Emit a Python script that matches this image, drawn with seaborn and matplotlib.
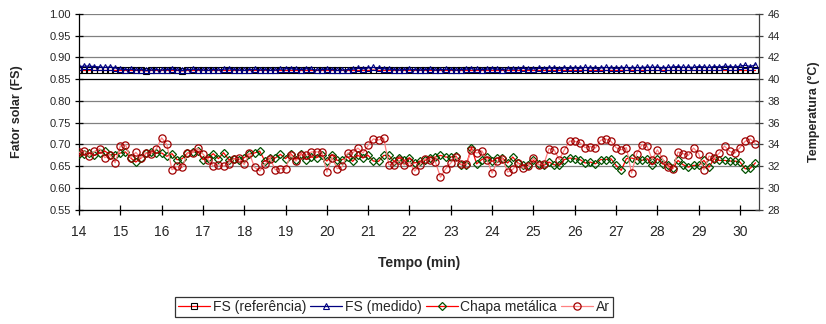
import numpy as np
import pandas as pd
import matplotlib
matplotlib.use("Agg")
import matplotlib.pyplot as plt
import seaborn as sns

# ---------------- data ----------------
t_start = 14.0
t_step = 0.125
n_points = 132
tempo = [round(t_start + i * t_step, 3) for i in range(n_points)]

fs_ref = [0.870, 0.870, 0.870, 0.870, 0.870, 0.870, 0.870, 0.870,
          0.870, 0.870, 0.870, 0.870, 0.870, 0.869, 0.870, 0.870,
          0.870, 0.870, 0.870, 0.870, 0.869, 0.870, 0.870, 0.870,
          0.870, 0.870, 0.870, 0.870, 0.870, 0.870, 0.870, 0.870,
          0.870, 0.870, 0.870, 0.870, 0.870, 0.870, 0.870, 0.870,
          0.870, 0.870, 0.870, 0.870, 0.870, 0.870, 0.870, 0.870,
          0.870, 0.870, 0.870, 0.870, 0.870, 0.870, 0.870, 0.870,
          0.870, 0.871, 0.870, 0.870, 0.870, 0.870, 0.870, 0.870,
          0.870, 0.870, 0.870, 0.870, 0.870, 0.870, 0.870, 0.870,
          0.870, 0.870, 0.870, 0.870, 0.870, 0.870, 0.870, 0.870,
          0.870, 0.870, 0.870, 0.870, 0.870, 0.870, 0.870, 0.870,
          0.870, 0.870, 0.870, 0.870, 0.870, 0.870, 0.870, 0.870,
          0.870, 0.870, 0.870, 0.870, 0.870, 0.870, 0.870, 0.870,
          0.870, 0.870, 0.870, 0.870, 0.870, 0.870, 0.870, 0.870,
          0.870, 0.870, 0.870, 0.870, 0.870, 0.870, 0.870, 0.870,
          0.870, 0.870, 0.870, 0.870, 0.870, 0.870, 0.870, 0.870,
          0.870, 0.870, 0.870, 0.870]

fs_medido = [0.879, 0.880, 0.880, 0.879, 0.878, 0.877, 0.878, 0.876,
             0.873, 0.872, 0.873, 0.871, 0.872, 0.870, 0.871, 0.872,
             0.871, 0.872, 0.873, 0.871, 0.870, 0.872, 0.873, 0.872,
             0.871, 0.870, 0.872, 0.871, 0.873, 0.874, 0.872, 0.871,
             0.870, 0.872, 0.873, 0.871, 0.872, 0.870, 0.871, 0.873,
             0.874, 0.874, 0.873, 0.872, 0.874, 0.873, 0.871, 0.872,
             0.873, 0.872, 0.870, 0.871, 0.872, 0.873, 0.875, 0.874,
             0.876, 0.877, 0.875, 0.874, 0.873, 0.872, 0.871, 0.872,
             0.873, 0.872, 0.871, 0.872, 0.873, 0.871, 0.872, 0.873,
             0.872, 0.871, 0.872, 0.873, 0.874, 0.873, 0.872, 0.873,
             0.874, 0.873, 0.872, 0.874, 0.873, 0.874, 0.875, 0.873,
             0.874, 0.875, 0.874, 0.876, 0.875, 0.874, 0.876, 0.875,
             0.876, 0.875, 0.877, 0.876, 0.875, 0.876, 0.877, 0.876,
             0.875, 0.876, 0.877, 0.876, 0.877, 0.876, 0.878, 0.877,
             0.878, 0.876, 0.877, 0.878, 0.879, 0.877, 0.878, 0.877,
             0.879, 0.878, 0.877, 0.879, 0.878, 0.880, 0.879, 0.878,
             0.880, 0.882, 0.879, 0.883]

chapa = [33.10, 33.08, 33.17, 32.98, 33.20, 33.38, 33.05, 33.05,
         33.20, 33.30, 32.74, 32.37, 32.74, 33.20, 33.30, 33.20,
         33.20, 32.90, 33.14, 32.58, 32.68, 33.20, 33.30, 33.38,
         32.60, 32.74, 33.14, 32.68, 33.23, 32.60, 32.68, 32.60,
         32.77, 33.14, 33.20, 33.38, 32.46, 32.74, 32.74, 33.08,
         32.68, 33.14, 32.60, 33.14, 32.60, 32.83, 32.77, 32.98,
         32.46, 33.05, 32.52, 32.60, 32.83, 32.43, 32.98, 32.74,
         32.98, 32.46, 32.43, 32.98, 32.98, 32.43, 32.74, 32.52,
         32.77, 32.28, 32.46, 32.52, 32.77, 32.83, 32.98, 32.83,
         32.83, 32.92, 32.12, 32.12, 33.70, 32.20, 32.60, 32.83,
         32.43, 32.74, 32.74, 32.28, 32.83, 32.28, 32.06, 32.06,
         32.52, 32.15, 32.06, 32.37, 32.12, 32.06, 32.60, 32.74,
         32.68, 32.60, 32.28, 32.37, 32.20, 32.60, 32.60, 32.68,
         32.06, 31.60, 32.68, 32.74, 32.60, 32.52, 32.68, 32.12,
         32.68, 32.20, 32.06, 31.80, 32.52, 32.12, 31.90, 32.06,
         32.06, 32.52, 31.90, 32.68, 32.52, 32.52, 32.46, 32.46,
         32.37, 31.75, 31.80, 32.30]

ar = [33.26, 33.40, 32.90, 33.35, 33.60, 32.77, 33.05, 32.30,
      33.85, 33.97, 32.74, 33.26, 32.74, 33.20, 33.14, 33.60,
      34.60, 34.00, 31.66, 31.97, 31.88, 33.20, 33.23, 33.63,
      33.10, 32.58, 32.00, 32.12, 32.00, 32.20, 32.65, 32.70,
      32.15, 33.17, 31.88, 31.54, 32.15, 32.68, 31.66, 31.75,
      31.75, 33.05, 32.46, 33.05, 32.98, 33.30, 33.30, 33.32,
      31.45, 32.77, 31.75, 31.97, 33.20, 33.20, 33.66, 33.20,
      33.90, 34.50, 34.40, 34.60, 32.12, 32.12, 32.52, 32.10,
      32.37, 31.54, 32.10, 32.68, 32.60, 32.40, 30.98, 31.75,
      32.28, 32.83, 32.15, 32.15, 33.45, 33.20, 33.40, 32.60,
      31.35, 32.43, 32.68, 31.45, 31.70, 32.28, 31.80, 31.97,
      32.74, 32.12, 32.15, 33.60, 33.50, 32.60, 33.50, 34.30,
      34.28, 34.15, 33.70, 33.80, 33.66, 34.37, 34.50, 34.28,
      33.70, 33.50, 33.70, 31.35, 33.14, 33.97, 33.85, 32.60,
      33.50, 32.68, 31.90, 31.75, 33.30, 33.14, 32.98, 33.66,
      33.14, 31.66, 32.92, 32.74, 33.20, 33.85, 33.35, 33.20,
      33.70, 34.28, 34.50, 34.06]

fs_ticks = [0.55, 0.60, 0.65, 0.70, 0.75, 0.80, 0.85, 0.90, 0.95, 1.00]
temp_ticks = [28, 30, 32, 34, 36, 38, 40, 42, 44, 46]
x_ticks = list(range(14, 31))

labels = ["FS (referência)", "FS (medido)", "Chapa metálica", "Ar"]

df = pd.DataFrame({"Tempo": tempo, "fs_ref": fs_ref, "fs_medido": fs_medido,
                   "chapa": chapa, "ar": ar})

# ---------------- style ----------------
sns.set_theme(style="white")
plt.rcParams["font.family"] = ["Liberation Sans", "DejaVu Sans"]

fig = plt.figure(figsize=(8.26, 3.24), dpi=100)
ax = fig.add_axes([79 / 826, 1 - 209.5 / 324, 680 / 826, 195.5 / 324])
ax2 = ax.twinx()

# gridlines
for v in fs_ticks:
    c = "#000000" if v in (0.60, 0.85) else "#808080"
    ax.axhline(v, color=c, lw=0.9, zorder=0)

sns.lineplot(data=df, x="Tempo", y="fs_ref", ax=ax, color="#FF0000", lw=0.9,
             marker="s", markeredgecolor="#000000", markerfacecolor="none",
             markersize=4.0, markeredgewidth=0.8, label=labels[0], legend=False)
sns.lineplot(data=df, x="Tempo", y="fs_medido", ax=ax, color="#000080", lw=0.9,
             marker="^", markeredgecolor="#000080", markerfacecolor="none",
             markersize=4.6, markeredgewidth=0.8, label=labels[1], legend=False)
sns.lineplot(data=df, x="Tempo", y="chapa", ax=ax2, color="#FF0000", lw=0.9,
             marker="D", markeredgecolor="#005000", markerfacecolor="none",
             markersize=3.8, markeredgewidth=0.9, label=labels[2], legend=False)
sns.lineplot(data=df, x="Tempo", y="ar", ax=ax2, color="#FF8080", lw=0.9,
             marker="o", markeredgecolor="#A00000", markerfacecolor="none",
             markersize=5.2, markeredgewidth=0.9, label=labels[3], legend=False)

ax.set_xlim(14, 30.46)
ax.set_ylim(0.55, 1.00)
ax2.set_ylim(28, 46)
ax.set_xticks(x_ticks)
ax.set_xticklabels([str(v) for v in x_ticks], fontsize=10)
ax.set_yticks(fs_ticks)
ax.set_yticklabels([f"{v:.2f}" for v in fs_ticks], fontsize=8)
ax2.set_yticks(temp_ticks)
ax2.set_yticklabels([str(v) for v in temp_ticks], fontsize=8)

for a in (ax, ax2):
    for s in a.spines.values():
        s.set_visible(False)
ax.spines["left"].set_visible(True)
ax.spines["left"].set_color("#000000")
ax.spines["left"].set_linewidth(0.9)
ax.spines["bottom"].set_visible(True)
ax.spines["bottom"].set_color("#000000")
ax.spines["bottom"].set_linewidth(0.9)
ax2.spines["right"].set_visible(True)
ax2.spines["right"].set_color("#404040")
ax2.spines["right"].set_linewidth(0.9)

ax.tick_params(axis="x", direction="inout", length=7, width=0.9, color="#000000",
               pad=8, bottom=True)
ax.tick_params(axis="y", direction="inout", length=6, width=0.9, color="#000000",
               pad=3, left=True)
ax2.tick_params(axis="y", direction="inout", length=6, width=0.9, color="#404040",
                pad=3, right=True)

ax.set_xlabel("Tempo (min)", fontsize=10, fontweight="bold")
ax.xaxis.set_label_coords(0.5, -0.24)
ax.set_ylabel("Fator solar (FS)", fontsize=9, fontweight="bold")
ax.yaxis.set_label_coords(-0.082, 0.5)
ax2.set_ylabel("Temperatura (°C)", fontsize=9, fontweight="bold", rotation=90)
ax2.yaxis.set_label_coords(1.072, 0.5)

h1, l1 = ax.get_legend_handles_labels()
h2, l2 = ax2.get_legend_handles_labels()
leg = fig.legend(h1 + h2, l1 + l2, loc="center", ncol=4,
                 bbox_to_anchor=(394 / 826, 1 - 307 / 324), fontsize=10,
                 frameon=True, fancybox=False, edgecolor="#000000",
                 borderpad=0.2, handlelength=2.3, handletextpad=0.2,
                 columnspacing=0.3, borderaxespad=0)
leg.get_frame().set_linewidth(0.9)

fig.savefig("out.png", dpi=100, facecolor="white")
